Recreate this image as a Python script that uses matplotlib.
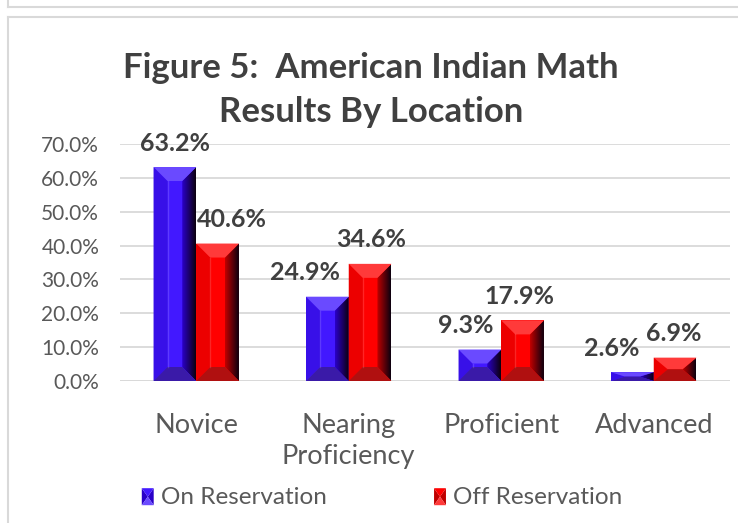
import numpy as np
import matplotlib
matplotlib.use("Agg")
import matplotlib.pyplot as plt
from matplotlib.patches import Polygon, Rectangle
from matplotlib.lines import Line2D
from matplotlib.legend_handler import HandlerBase
from matplotlib.ticker import FuncFormatter

plt.rcParams['font.family'] = ['Lato', 'DejaVu Sans']

categories = ['Novice', 'Nearing\nProficiency', 'Proficient', 'Advanced']
on_res = [63.2, 24.9, 9.3, 2.6]
off_res = [40.6, 34.6, 17.9, 6.9]
series_names = ['On Reservation', 'Off Reservation']
yticks = [0, 10, 20, 30, 40, 50, 60, 70]

# label nudges (in px), Excel shifted some labels to avoid overlap
on_dx = [0, -22, -14, -21]
off_dx = [14, 1, -3, -1]

# face, left, top, bottom, right-start colours for the bevel look
styles = {
    'on': dict(face='#4218ff', left='#3810e8', top='#6a4aff', bottom='#3a1aa8', right='#2a00c8'),
    'off': dict(face='#ff0000', left='#ec0000', top='#ff3a3a', bottom='#b01010', right='#c00000'),
}

W, H = 738, 523
fig = plt.figure(figsize=(W / 100, H / 100), dpi=100)
ax_l, ax_r, ax_b, ax_t = 120, 730, 381, 144
ax = fig.add_axes([ax_l / W, 1 - ax_b / H, (ax_r - ax_l) / W, (ax_b - ax_t) / H])
ax.set_xlim(-0.5, 3.5)
ax.set_ylim(0, 70)

px_x = (ax_r - ax_l) / 4.0   # px per x unit
px_y = (ax_b - ax_t) / 70.0  # px per y unit

bw = 0.28
x = np.arange(len(categories))


def bevel_bar(x0, h, st):
    x1 = x0 + bw
    bx = 14 / px_x
    by = min(14 / px_y, h / 2)
    ax.add_patch(Rectangle((x0, 0), bw, h, facecolor=st['face'], edgecolor='none', zorder=3))
    ax.add_patch(Polygon([(x0, 0), (x0, h), (x0 + bx, h - by), (x0 + bx, by)],
                         facecolor=st['left'], edgecolor='none', zorder=4))
    rp = Polygon([(x1, 0), (x1, h), (x1 - bx, h - by), (x1 - bx, by)],
                 facecolor='none', edgecolor='none', zorder=4)
    ax.add_patch(rp)
    c0 = np.array(matplotlib.colors.to_rgb(st['right']))
    grad = np.linspace(0, 1, 32)[None, :, None]
    img = c0 * (1 - grad) + np.array([0.05, 0.0, 0.06]) * grad
    im = ax.imshow(img, extent=(x1 - bx, x1, 0, h), aspect='auto', zorder=4, interpolation='bilinear')
    im.set_clip_path(rp)
    ax.add_patch(Polygon([(x0, h), (x1, h), (x1 - bx, h - by), (x0 + bx, h - by)],
                         facecolor=st['top'], edgecolor='none', zorder=5))
    ax.add_patch(Polygon([(x0, 0), (x1, 0), (x1 - bx, by), (x0 + bx, by)],
                         facecolor=st['bottom'], edgecolor='none', zorder=5))
    # inner light strip like the Excel bevel
    ax.plot([x0 + bx, x0 + bx], [by, h - by], color='white', alpha=0.15, lw=1, zorder=6)


for i in range(len(categories)):
    bevel_bar(x[i] - bw, on_res[i], styles['on'])
    bevel_bar(x[i], off_res[i], styles['off'])
    ax.annotate(f'{on_res[i]:.1f}%', (x[i] - bw / 2, on_res[i]), xytext=(on_dx[i], 24),
                textcoords='offset pixels', ha='center', va='center',
                fontsize=18, fontweight='bold', color='#404040', zorder=7)
    ax.annotate(f'{off_res[i]:.1f}%', (x[i] + bw / 2, off_res[i]), xytext=(off_dx[i], 24),
                textcoords='offset pixels', ha='center', va='center',
                fontsize=18, fontweight='bold', color='#404040', zorder=7)

ax.set_yticks(yticks)
ax.yaxis.set_major_formatter(FuncFormatter(lambda v, p: f'{v:.1f}%'))
ax.set_xticks(x)
ax.set_xticklabels(categories, linespacing=1.3)
ax.tick_params(axis='y', length=0, pad=15, labelsize=15, labelcolor='#595959')
ax.tick_params(axis='x', length=0, pad=23, labelsize=19.5, labelcolor='#595959')
ax.grid(axis='y', color='#d9d9d9', lw=1.3, zorder=0)
ax.set_axisbelow(True)
for s in ax.spines.values():
    s.set_visible(False)
ax.axhline(0, color='#d9d9d9', lw=1.3, zorder=2)

fig.text(371 / W, 1 - 90 / H, 'Figure 5:  American Indian Math\nResults By Location',
         ha='center', va='center', fontsize=25, fontweight='bold', color='#404040',
         linespacing=1.48)


class BowtieHandler(HandlerBase):
    def __init__(self, st):
        super().__init__()
        self.st = st

    def create_artists(self, legend, orig_handle, xd, yd, width, height, fontsize, trans):
        w = height * 0.7
        x0 = xd + width - w
        y0 = yd - height * 0.1
        hh = height * 1.0
        cx, cy = x0 + w / 2, y0 + hh / 2
        tris = [
            ([(x0, y0), (x0, y0 + hh), (cx, cy)], self.st['right']),
            ([(x0 + w, y0), (x0 + w, y0 + hh), (cx, cy)], self.st['right']),
            ([(x0, y0 + hh), (x0 + w, y0 + hh), (cx, cy)], self.st['face']),
            ([(x0, y0), (x0 + w, y0), (cx, cy)], self.st['top']),
        ]
        return [Polygon(p, facecolor=c, edgecolor='none', transform=trans) for p, c in tris]


h_on = Rectangle((0, 0), 1, 1)
h_off = Rectangle((0, 0), 1, 1)
fig.legend([h_on, h_off], series_names, loc='center', bbox_to_anchor=(0.516, 1 - 497 / H),
           ncol=2, frameon=False, fontsize=17.5, labelcolor='#595959',
           handlelength=0.6, handletextpad=0.3, columnspacing=4.3,
           handler_map={h_on: BowtieHandler(styles['on']), h_off: BowtieHandler(styles['off'])})

# chart frames
frame = '#d9d9d9'
fig.add_artist(Line2D([8 / W, 8 / W], [0, 1 - 17 / H], color=frame, lw=1.5))
fig.add_artist(Line2D([8 / W, 1], [1 - 17 / H, 1 - 17 / H], color=frame, lw=1.5))
fig.add_artist(Line2D([8 / W, 1], [1 - 7 / H, 1 - 7 / H], color=frame, lw=1.5))
fig.add_artist(Line2D([8 / W, 8 / W], [1 - 7 / H, 1], color=frame, lw=1.5))

fig.savefig('out.png', dpi=100)
